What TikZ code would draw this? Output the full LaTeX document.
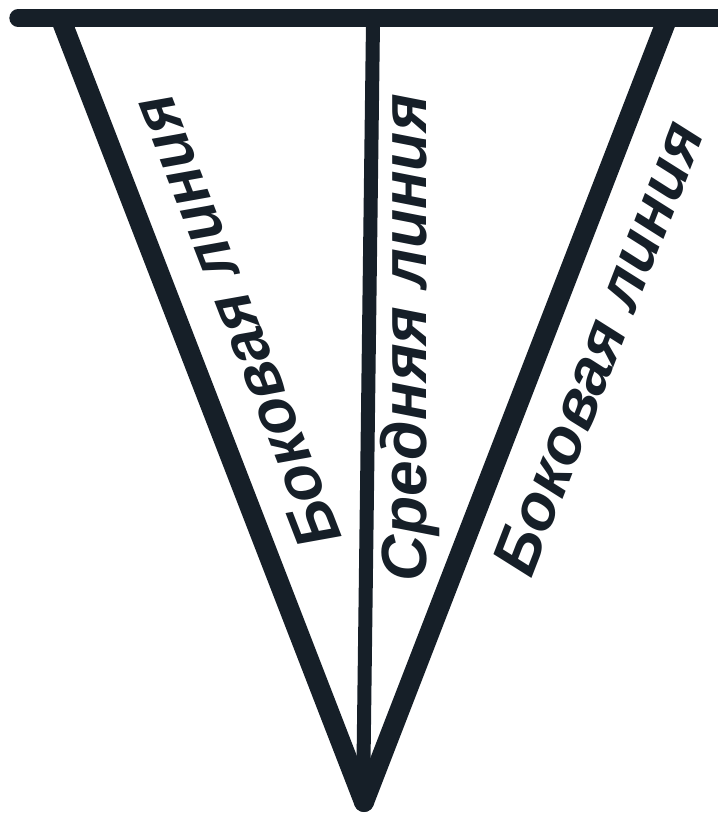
\documentclass[tikz,border=0pt]{standalone}
\usepackage{fontspec}
\setmainfont{Liberation Sans}
\definecolor{ink}{RGB}{22,31,40}
\tikzset{
  bar/.style={line width=13pt, draw=ink, line cap=round},
  side/.style={line width=15pt, draw=ink, line cap=round},
  midline/.style={line width=10.5pt, draw=ink},
  lbl/.style={text=ink, font=\fontsize{48}{48}\selectfont\bfseries\itshape, inner sep=0pt}
}

\begin{document}
\begin{tikzpicture}[x=0.75pt,y=-0.75pt]
                \useasboundingbox (0,0) rectangle (717,816);
                % Nodes
                \coordinate (barL) at (18,18);
                \coordinate (barR) at (740,18);
                \coordinate (sideL) at (62,22);
                \coordinate (sideR) at (666,22);
                \coordinate (midT) at (373,22);
                \coordinate (midB) at (363,802);
                \coordinate (apex) at (364,802);
                \node[lbl, rotate=111.2] (labL) at (236,322) {Боковая линия};
                \node[lbl, rotate=90] (labM) at (410,338) {Средняя линия};
                \node[lbl, rotate=68.8] (labR) at (598,348) {Боковая линия};

                % Edges
                \draw[side] (sideL)--(apex);
                \draw[side] (sideR)--(apex);
                \draw[midline] (midT)--(midB);
                \draw[bar] (barL)--(barR);
            \end{tikzpicture}
\end{document}
